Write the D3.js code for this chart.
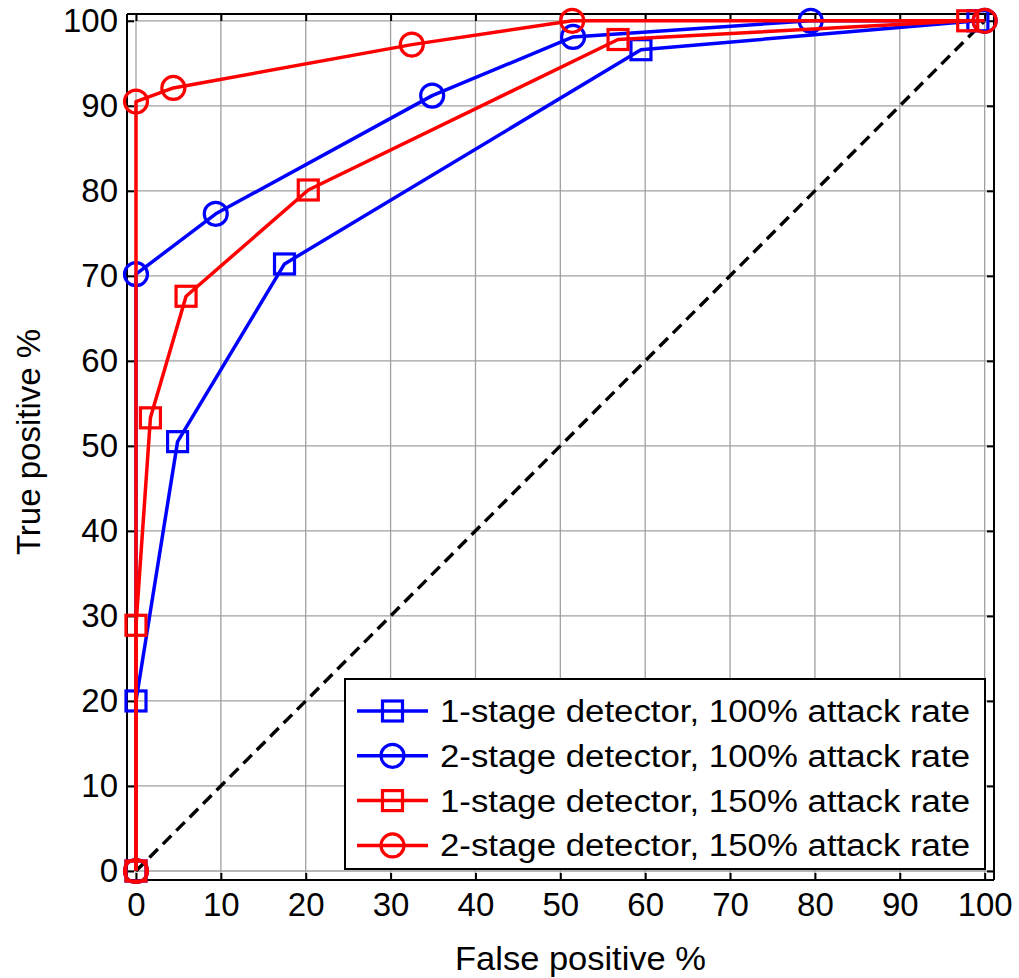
<!DOCTYPE html>
<html><head><meta charset="utf-8">
<script src="https://cdn.jsdelivr.net/npm/d3@7/dist/d3.min.js"></script>
<style>body{margin:0;background:#fff}svg{display:block}text{font-family:"Liberation Sans",Arial,sans-serif}</style>
</head><body><svg id="c" width="1019" height="978"></svg>
<script>
const xTicks = [0,10,20,30,40,50,60,70,80,90,100];
const yTicks = [0,10,20,30,40,50,60,70,80,90,100];
const seriesNames = ["1-stage detector, 100% attack rate","2-stage detector, 100% attack rate","1-stage detector, 150% attack rate","2-stage detector, 150% attack rate"];
const seriesColors = ["#0000ff","#0000ff","#ff0000","#ff0000"];
const seriesMarkers = ["square","circle","square","circle"];
const s1x = [0,0,4.9,17.5,59.5,99.2];
const s1y = [0,20,50.5,71.4,96.6,100];
const s2x = [0,0,9.4,34.9,51.5,79.5,100];
const s2y = [0,70.2,77.3,91.2,98.1,100,100];
const s3x = [0,0,1.7,5.9,20.3,56.8,98.0];
const s3y = [0,28.9,53.3,67.6,80.1,97.8,100];
const s4x = [0,0,4.4,32.5,51.4,100];
const s4y = [0,90.5,92.1,97.2,100,100];
const chanceX = [0,100];
const chanceY = [0,100];
const xLabel = "False positive %";
const yLabel = "True positive %";

const svg = d3.select("#c");
const L=127, R=994, T=14, B=880;
const x = d3.scaleLinear().domain([-1.06,101.1]).range([L,R]);
const y = d3.scaleLinear().domain([-1.06,100.8]).range([B,T]);

// grid
const g = svg.append("g");
g.selectAll(".gx").data(xTicks).enter().append("line")
 .attr("x1",d=>x(d)).attr("x2",d=>x(d)).attr("y1",T).attr("y2",B)
 .attr("stroke","#a0a0a0").attr("stroke-width",1.3);
g.selectAll(".gy").data(yTicks).enter().append("line")
 .attr("y1",d=>y(d)).attr("y2",d=>y(d)).attr("x1",L).attr("x2",R)
 .attr("stroke","#a0a0a0").attr("stroke-width",1.3);

// axes
const fs = 33;
const ax = svg.append("g").attr("transform",`translate(0,${B})`)
 .call(d3.axisBottom(x).tickValues(xTicks).tickSize(-7).tickPadding(13));
const axT = svg.append("g").attr("transform",`translate(0,${T})`)
 .call(d3.axisTop(x).tickValues(xTicks).tickSize(-7).tickFormat(""));
const ay = svg.append("g").attr("transform",`translate(${L},0)`)
 .call(d3.axisLeft(y).tickValues(yTicks).tickSize(-7).tickPadding(9));
const ayR = svg.append("g").attr("transform",`translate(${R},0)`)
 .call(d3.axisRight(y).tickValues(yTicks).tickSize(-7).tickFormat(""));
[ax,axT,ay,ayR].forEach(a=>{
  a.attr("font-size",fs).attr("font-family","Liberation Sans, Arial, sans-serif");
  a.select(".domain").attr("stroke","#000").attr("stroke-width",2);
  a.selectAll(".tick line").attr("stroke","#000").attr("stroke-width",2);
  a.selectAll("text").attr("font-size",fs).attr("fill","#000");
});
ax.select(".domain").attr("d",`M${L},0H${R}`);
axT.select(".domain").attr("d",`M${L},0H${R}`);
ay.select(".domain").attr("d",`M0,${T}V${B}`);
ayR.select(".domain").attr("d",`M0,${T}V${B}`);

// diagonal
const line = d3.line().x(d=>x(d[0])).y(d=>y(d[1]));
svg.append("path").datum(d3.zip(chanceX,chanceY)).attr("d",line)
 .attr("fill","none").attr("stroke","#000").attr("stroke-width",3.4).attr("stroke-dasharray","12,7");

const data = [[s1x,s1y],[s2x,s2y],[s3x,s3y],[s4x,s4y]].map(([a,b])=>d3.zip(a,b));
function marker(sel, type, color){
  if(type==="square"){
    sel.append("rect").attr("x",-10).attr("y",-10).attr("width",20).attr("height",20)
      .attr("fill","none").attr("stroke",color).attr("stroke-width",3.2);
  } else {
    sel.append("circle").attr("r",11.5).attr("fill","none").attr("stroke",color).attr("stroke-width",3.2);
  }
}
data.forEach((pts,i)=>{
  svg.append("path").datum(pts).attr("d",line).attr("fill","none")
   .attr("stroke",seriesColors[i]).attr("stroke-width",3.5).attr("stroke-linejoin","round");
  svg.selectAll(null).data(pts).enter().append("g")
   .attr("transform",d=>`translate(${x(d[0])},${y(d[1])})`)
   .each(function(){ marker(d3.select(this), seriesMarkers[i], seriesColors[i]); });
});

// legend
const lg = svg.append("g");
lg.append("rect").attr("x",345).attr("y",679).attr("width",640).attr("height",190)
 .attr("fill","#fff").attr("stroke","#000").attr("stroke-width",2);
seriesNames.forEach((n,i)=>{
  const cy = 711 + i*44.8;
  lg.append("line").attr("x1",357).attr("x2",428).attr("y1",cy).attr("y2",cy)
   .attr("stroke",seriesColors[i]).attr("stroke-width",3.5);
  const m = lg.append("g").attr("transform",`translate(392.5,${cy})`);
  marker(m, seriesMarkers[i], seriesColors[i]);
  lg.append("text").attr("x",440).attr("y",cy+11).attr("font-size",31)
   .attr("textLength",530).attr("lengthAdjust","spacingAndGlyphs").text(n);
});

// axis labels
svg.append("text").attr("x",455).attr("y",970)
 .attr("font-size",fs).attr("textLength",251).attr("lengthAdjust","spacingAndGlyphs").text(xLabel);
svg.append("text").attr("transform",`translate(40,442) rotate(-90)`)
 .attr("text-anchor","middle").attr("font-size",fs).text(yLabel);
</script></body></html>
